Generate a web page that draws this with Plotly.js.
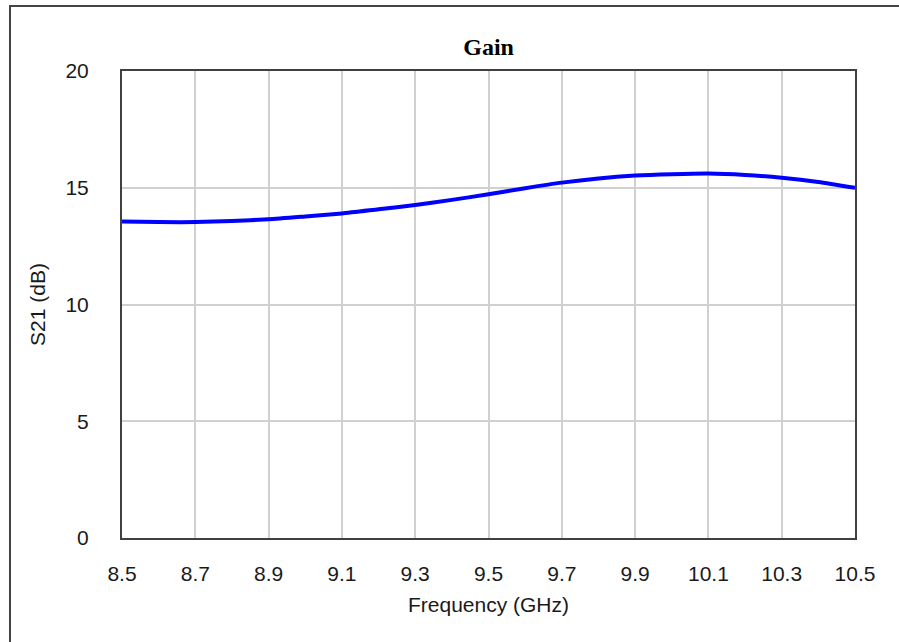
<!DOCTYPE html>
<html>
<head>
<meta charset="utf-8">
<script src="https://cdn.plot.ly/plotly-3.0.1.min.js"></script>
<style>
  html, body { margin: 0; padding: 0; background: #fff; overflow: hidden; }
  #wrap { position: relative; width: 899px; height: 642px; }
  #frame { position: absolute; left: 9px; top: 5px; width: 900px; height: 660px; border: 2px solid #444; box-sizing: border-box; pointer-events: none; z-index: 5; }
  #chart { position: absolute; left: 0; top: 0; width: 899px; height: 642px; }
</style>
</head>
<body>
<div id="wrap">
  <div id="chart"></div>
  <div id="frame"></div>
</div>
<script>
const frequency = [8.5, 8.6, 8.7, 8.8, 8.9, 9.0, 9.1, 9.2, 9.3, 9.4, 9.5, 9.6, 9.7, 9.8, 9.9, 10.0, 10.1, 10.2, 10.3, 10.4, 10.5];
const s21 = [13.55, 13.53, 13.53, 13.58, 13.65, 13.77, 13.9, 14.08, 14.26, 14.48, 14.72, 14.98, 15.22, 15.4, 15.52, 15.58, 15.61, 15.55, 15.43, 15.25, 15.0];
const xTicks = [8.5, 8.7, 8.9, 9.1, 9.3, 9.5, 9.7, 9.9, 10.1, 10.3, 10.5];
const yTicks = [0, 5, 10, 15, 20];

const trace = {
  x: frequency,
  y: s21,
  type: 'scatter',
  mode: 'lines',
  line: { color: '#0000ff', width: 4, shape: 'spline', smoothing: 0.6 },
  hoverinfo: 'x+y'
};

const tickFont = { family: 'Liberation Sans, Arial, sans-serif', size: 21, color: '#1a1a1a' };

const layout = {
  width: 899,
  height: 642,
  autosize: false,
  margin: { l: 122, r: 44, t: 71, b: 104 },
  paper_bgcolor: '#fff',
  plot_bgcolor: '#fff',
  showlegend: false,
  title: {
    text: '<b>Gain</b>',
    font: { family: 'Liberation Serif, Times New Roman, serif', size: 24, color: '#000' },
    x: 0.5435, xref: 'container', xanchor: 'center',
    y: 1 - 47 / 642, yref: 'container', yanchor: 'middle'
  },
  xaxis: {
    range: [8.5, 10.5],
    tickvals: xTicks,
    ticktext: xTicks.map(v => v.toFixed(1)),
    ticks: '',
    showgrid: true,
    gridcolor: '#d0d0d0',
    gridwidth: 2,
    showline: true,
    linecolor: '#404040',
    linewidth: 2,
    mirror: true,
    zeroline: false,
    tickfont: tickFont,
    ticklabelstandoff: 16,
    automargin: false,
    title: { text: 'Frequency (GHz)', font: tickFont, standoff: 13 }
  },
  yaxis: {
    range: [0, 20],
    tickvals: yTicks,
    ticks: '',
    showgrid: true,
    gridcolor: '#d0d0d0',
    gridwidth: 2,
    showline: true,
    linecolor: '#404040',
    linewidth: 2,
    mirror: true,
    zeroline: false,
    tickfont: tickFont,
    ticklabelstandoff: 27,
    automargin: false,
    title: { text: 'S21 (dB)', font: tickFont, standoff: 14 }
  }
};

Plotly.newPlot('chart', [trace], layout, { staticPlot: true, displayModeBar: false });
</script>
</body>
</html>
